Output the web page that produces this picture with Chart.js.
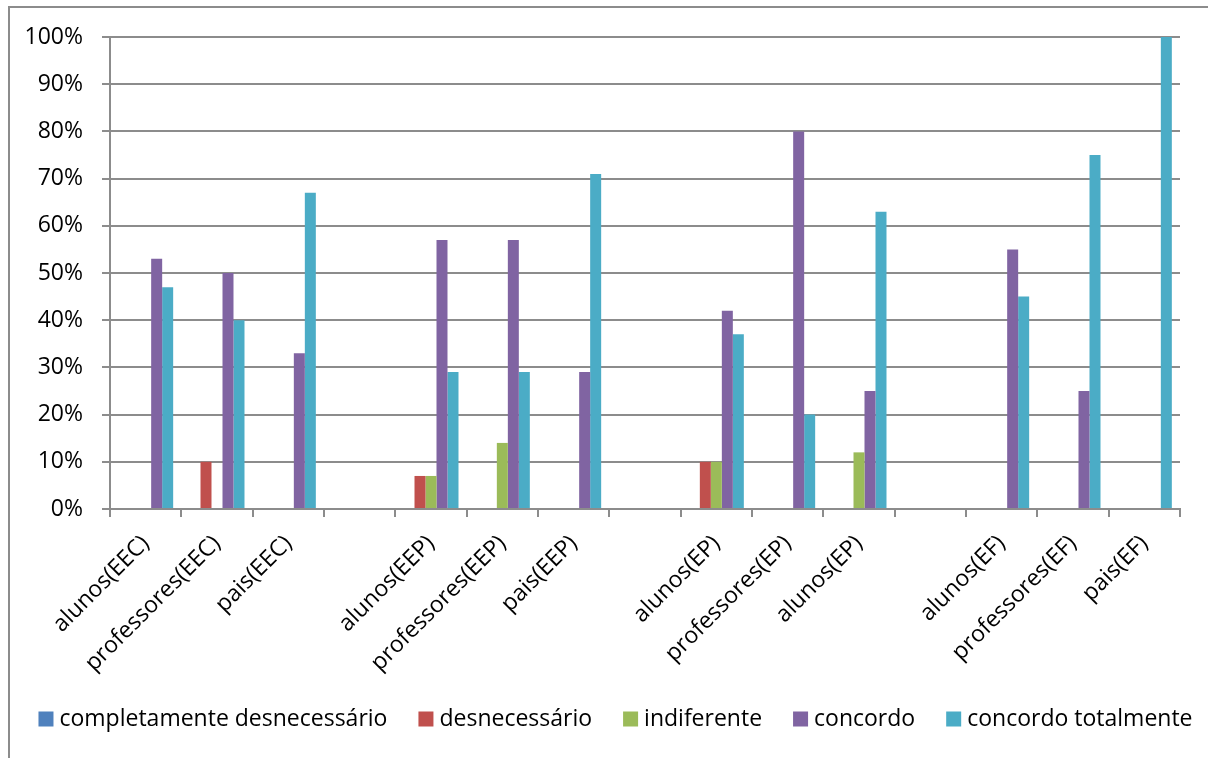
<!DOCTYPE html>
<html>
<head>
<meta charset="utf-8">
<script src="https://cdn.jsdelivr.net/npm/chart.js@4.4.1/dist/chart.umd.min.js"></script>
<style>
html, body { margin: 0; padding: 0; background: #fff; }
canvas { display: block; }
</style>
</head>
<body>
<canvas id="chart" width="1208" height="758"></canvas>
<script>
// categories (empty ones are the gaps between groups)
var categories = ["alunos(EEC)", "professores(EEC)", "pais(EEC)", "",
    "alunos(EEP)", "professores(EEP)", "pais(EEP)", "",
    "alunos(EP)", "professores(EP)", "alunos(EP)", "",
    "alunos(EF)", "professores(EF)", "pais(EF)"];
var seriesNames = ["completamente desnecessário", "desnecessário", "indiferente", "concordo", "concordo totalmente"];
var completamenteDesnecessario = [0, 0, 0, 0, 0, 0, 0, 0, 0, 0, 0, 0, 0, 0, 0];
var desnecessario = [0, 10, 0, 0, 7, 0, 0, 0, 10, 0, 0, 0, 0, 0, 0];
var indiferente = [0, 0, 0, 0, 7, 14, 0, 0, 10, 0, 12, 0, 0, 0, 0];
var concordo = [53, 50, 33, 0, 57, 57, 29, 0, 42, 80, 25, 0, 55, 25, 0];
var concordoTotalmente = [47, 40, 67, 0, 29, 29, 71, 0, 37, 20, 63, 0, 45, 75, 100];
var yTicks = [0, 10, 20, 30, 40, 50, 60, 70, 80, 90, 100];

var colors = ["#4F81BD", "#C0504D", "#9BBB59", "#8064A2", "#4BACC6"];
var values = [completamenteDesnecessario, desnecessario, indiferente, concordo, concordoTotalmente];
var gridColor = "#8c8c8c";
var fontFamily = "'Open Sans', 'Liberation Sans', sans-serif";

Chart.defaults.font.family = fontFamily;
Chart.defaults.font.size = 23;
Chart.defaults.color = "#000";

// outer chart frame (left and top edges visible)
var frame = {
    id: "frame",
    beforeDraw: function(chart) {
        var ctx = chart.ctx;
        ctx.save();
        ctx.fillStyle = "#fff";
        ctx.fillRect(0, 0, chart.width, chart.height);
        ctx.strokeStyle = gridColor;
        ctx.lineWidth = 2;
        ctx.strokeRect(9, 7, 1400, 1000);
        ctx.restore();
    }
};

// legend drawn in one row like the Excel one: small square, text, wide gap
var rowLegend = {
    id: "rowLegend",
    afterDraw: function(chart) {
        var ctx = chart.ctx, sets = chart.data.datasets;
        var box = 15, gapText = 6, gapItem = 31, y = 719;
        ctx.save();
        ctx.font = "23px " + fontFamily;
        ctx.textBaseline = "middle";
        ctx.fillStyle = "#000";
        var total = 0;
        sets.forEach(function(d, i) {
            total += box + gapText + ctx.measureText(d.label).width + (i ? gapItem : 0);
        });
        var x = 615.5 - total / 2;
        sets.forEach(function(d) {
            ctx.fillStyle = d.backgroundColor;
            ctx.fillRect(x, y - box / 2, box, box);
            ctx.fillStyle = "#000";
            ctx.fillText(d.label, x + box + gapText, y);
            x += box + gapText + ctx.measureText(d.label).width + gapItem;
        });
        ctx.restore();
    }
};

new Chart(document.getElementById("chart"), {
    type: "bar",
    data: {
        labels: categories,
        datasets: values.map(function(v, i) {
            return {
                label: seriesNames[i],
                data: v,
                backgroundColor: colors[i],
                borderWidth: 0
            };
        })
    },
    options: {
        responsive: false,
        animation: false,
        categoryPercentage: 0.771,
        barPercentage: 1,
        layout: {
            padding: { left: 0, right: 28, top: 37, bottom: 72 }
        },
        plugins: {
            legend: { display: false },
            tooltip: { enabled: false }
        },
        scales: {
            x: {
                grid: {
                    offset: true,
                    drawOnChartArea: false,
                    drawTicks: true,
                    tickLength: 8,
                    color: gridColor,
                    lineWidth: 2
                },
                border: { color: gridColor, width: 2 },
                ticks: {
                    autoSkip: false,
                    maxRotation: 45,
                    minRotation: 45,
                    padding: 13,
                    font: { size: 23 }
                },
                afterFit: function(s) { s.height = 177; }
            },
            y: {
                min: 0,
                max: 100,
                afterBuildTicks: function(s) {
                    s.ticks = yTicks.map(function(v) { return { value: v }; });
                },
                grid: {
                    color: gridColor,
                    lineWidth: 2,
                    tickLength: 8
                },
                border: { color: gridColor, width: 2 },
                ticks: {
                    padding: 19,
                    font: { size: 23 },
                    callback: function(v) { return v + "%"; }
                },
                afterFit: function(s) { s.width = 110; }
            }
        }
    },
    plugins: [frame, rowLegend]
});
</script>
</body>
</html>
